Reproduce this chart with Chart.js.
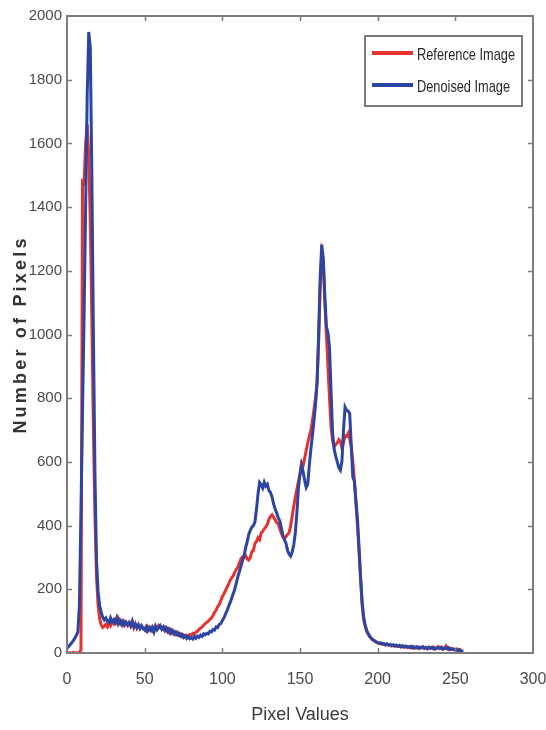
<!DOCTYPE html>
<html><head><meta charset="utf-8">
<script src="https://cdn.jsdelivr.net/npm/chart.js@4.4.1/dist/chart.umd.min.js"></script>
<style>html,body{margin:0;padding:0;background:#fff}canvas{display:block}</style>
</head><body>
<canvas id="c" width="546" height="730"></canvas>
<script>
// ---- data ----
const pixelValues = Array.from({length: 256}, (_, i) => i); // histogram bins 0..255
const referenceCounts = [
  2, 0, 1, 0, 2, 0, 1, 0, 2, 10,
  1480, 1475, 1600, 1660, 1560, 1350, 1050, 700, 430, 240,
  150, 108, 88, 80, 84, 90, 82, 94, 86, 100,
  92, 104, 96, 108, 94, 100, 88, 98, 92, 86,
  96, 88, 98, 80, 92, 78, 86, 80, 84, 76,
  78, 70, 82, 74, 80, 70, 78, 82, 76, 86,
  80, 78, 74, 80, 70, 76, 64, 72, 62, 66,
  58, 64, 56, 60, 52, 56, 50, 55, 54, 58,
  56, 62, 60, 66, 68, 74, 78, 82, 88, 92,
  96, 100, 106, 110, 118, 128, 134, 146, 152, 164,
  177, 186, 196, 206, 216, 228, 236, 242, 254, 262,
  270, 282, 296, 302, 300, 306, 296, 292, 300, 318,
  322, 344, 350, 362, 356, 376, 382, 390, 396, 404,
  420, 428, 434, 426, 418, 410, 406, 390, 376, 364,
  360, 366, 372, 378, 400, 430, 462, 490, 514, 540,
  562, 596, 588, 612, 636, 660, 680, 700, 730, 764,
  800, 850, 980, 1150, 1250, 1220, 1100, 1000, 900, 800,
  710, 665, 648, 655, 660, 670, 664, 642, 660, 682,
  680, 690, 672, 648, 600, 543, 470, 400, 320, 232,
  150, 104, 84, 68, 58, 50, 45, 40, 38, 34,
  32, 29, 30, 27, 29, 25, 28, 24, 26, 22,
  24, 21, 23, 20, 22, 19, 21, 18, 20, 17,
  19, 16, 20, 15, 18, 16, 19, 14, 17, 20,
  14, 17, 13, 19, 16, 14, 18, 12, 16, 20,
  14, 18, 12, 15, 22, 13, 16, 11, 14, 12,
  10, 13, 8, 11, 6, 5
];
const denoisedCounts = [
  15, 20, 26, 32, 38, 46, 55, 66, 150, 450,
  760, 1060, 1400, 1750, 1950, 1900, 1500, 1000, 560, 290,
  195, 150, 128, 112, 104, 110, 100, 96, 110, 97,
  104, 95, 110, 92, 102, 90, 99, 88, 97, 90,
  95, 85, 100, 83, 90, 80, 89, 77, 86, 78,
  72, 82, 70, 79, 71, 80, 66, 84, 73, 80,
  86, 75, 82, 71, 78, 67, 74, 63, 70, 60,
  66, 57, 62, 53, 58, 49, 54, 46, 52, 45,
  48, 44, 52, 46, 53, 49, 56, 52, 60, 57,
  62, 60, 68, 66, 74, 72, 82, 80, 90, 92,
  102, 110, 122, 132, 146, 158, 172, 186, 200, 220,
  240, 256, 272, 290, 305, 330, 350, 372, 385, 395,
  400, 412, 452, 500, 535, 528, 518, 536, 524, 530,
  510, 504, 490, 468, 452, 440, 424, 415, 392, 370,
  356, 344, 322, 310, 304, 318, 340, 378, 440, 518,
  560, 590, 570, 542, 520, 530, 590, 640, 682, 730,
  780, 850, 1000, 1180, 1282, 1240, 1120, 1025, 1005, 960,
  820, 690, 640, 618, 600, 582, 574, 602, 700, 772,
  762, 760, 752, 650, 552, 540, 480, 420, 330, 240,
  160, 112, 86, 70, 60, 52, 46, 42, 38, 35,
  33, 30, 32, 28, 30, 26, 29, 25, 27, 24,
  26, 22, 25, 21, 24, 20, 23, 19, 22, 20,
  18, 21, 17, 20, 16, 19, 15, 18, 16, 19,
  15, 18, 14, 17, 15, 18, 13, 16, 14, 17,
  15, 18, 12, 16, 14, 17, 11, 14, 12, 10,
  12, 8, 10, 6, 7, 4
];
const xTickValues = [0, 50, 100, 150, 200, 250, 300];
const yTickValues = [0, 200, 400, 600, 800, 1000, 1200, 1400, 1600, 1800, 2000];
const seriesLabels = ['Reference Image', 'Denoised Image'];
const xTitle = 'Pixel Values';
const yTitle = 'Number of Pixels';

// ---- styles ----
const FONT = "'Liberation Sans', Arial, sans-serif";
const RED = '#e5322f';
const BLUE = '#2c45a3';
const AXIS = '#7d7d7d';

const toXY = (ys) => ys.map((v, i) => ({x: pixelValues[i], y: v}));

const decorPlugin = {
  id: 'decor',
  afterDatasetsDraw(chart) {
    const {ctx, chartArea: a, scales: {x, y}} = chart;
    ctx.save();
    // inward tick marks (top/bottom/left/right)
    ctx.strokeStyle = AXIS;
    ctx.lineWidth = 1.5;
    const tl = 5;
    ctx.beginPath();
    xTickValues.forEach(v => {
      const px = Math.round(x.getPixelForValue(v)) + 0.5;
      if (px <= a.left + 2 || px >= a.right - 2) return;
      ctx.moveTo(px, a.bottom); ctx.lineTo(px, a.bottom - tl);
      ctx.moveTo(px, a.top); ctx.lineTo(px, a.top + tl);
    });
    yTickValues.forEach(v => {
      const py = Math.round(y.getPixelForValue(v)) + 0.5;
      if (py <= a.top + 2 || py >= a.bottom - 2) return;
      ctx.moveTo(a.left, py); ctx.lineTo(a.left + tl, py);
      ctx.moveTo(a.right, py); ctx.lineTo(a.right - tl, py);
    });
    ctx.stroke();
    // frame
    ctx.lineWidth = 2;
    ctx.strokeRect(a.left, a.top, a.right - a.left, a.bottom - a.top);

    // legend box
    const bw = 157, bh = 70;
    const bx = a.right - 11 - bw, by = a.top + 20;
    ctx.fillStyle = '#ffffff';
    ctx.fillRect(bx, by, bw, bh);
    ctx.strokeStyle = '#6e6e6e';
    ctx.lineWidth = 1.8;
    ctx.strokeRect(bx, by, bw, bh);
    const ds = chart.data.datasets;
    const rows = [by + 17, by + 49];
    ctx.font = '17px ' + FONT;
    const sx = 98 / ctx.measureText(ds[0].label).width;
    ds.forEach((d, i) => {
      const ly = rows[i];
      ctx.strokeStyle = d.borderColor;
      ctx.lineWidth = 4;
      ctx.beginPath();
      ctx.moveTo(bx + 7, ly); ctx.lineTo(bx + 48, ly);
      ctx.stroke();
      ctx.save();
      ctx.translate(bx + 52, ly + 2);
      ctx.scale(sx, 1);
      ctx.fillStyle = '#2a2a2a';
      ctx.textAlign = 'left';
      ctx.textBaseline = 'middle';
      ctx.fillText(d.label, 0, 0);
      ctx.restore();
    });
    ctx.restore();
  },
  afterDraw(chart) {
    const {ctx, chartArea: a} = chart;
    ctx.save();
    ctx.translate(21, (a.top + a.bottom) / 2);
    ctx.rotate(-Math.PI / 2);
    ctx.fillStyle = '#333';
    ctx.font = 'bold 18px ' + FONT;
    try { ctx.letterSpacing = '3.2px'; } catch (e) {}
    ctx.textAlign = 'center';
    ctx.textBaseline = 'middle';
    ctx.fillText(yTitle, 0, 0);
    ctx.restore();
  }
};

new Chart(document.getElementById('c'), {
  type: 'line',
  data: {
    datasets: [
      {label: seriesLabels[0], data: toXY(referenceCounts), borderColor: RED, backgroundColor: RED,
       borderWidth: 3, pointRadius: 0, tension: 0, order: 1},
      {label: seriesLabels[1], data: toXY(denoisedCounts), borderColor: BLUE, backgroundColor: BLUE,
       borderWidth: 3, pointRadius: 0, tension: 0, order: 0}
    ]
  },
  options: {
    responsive: false,
    animation: false,
    devicePixelRatio: 1,
    layout: {padding: {top: 16, right: 13, left: 0, bottom: 0}},
    plugins: {legend: {display: false}, tooltip: {enabled: false}},
    scales: {
      x: {
        type: 'linear', min: 0, max: 300,
        grid: {display: false, drawTicks: false},
        border: {display: false},
        afterBuildTicks: s => { s.ticks = xTickValues.map(v => ({value: v})); },
        afterFit: s => { s.height = 77; s.paddingLeft = 0; s.paddingRight = 0; },
        ticks: {color: '#4a4a4a', font: {family: FONT, size: 16}, padding: 17, maxRotation: 0,
                callback: v => String(v)},
        title: {display: true, text: xTitle, color: '#3a3a3a', font: {family: FONT, size: 18}, padding: {top: 0, bottom: 4}}
      },
      y: {
        type: 'linear', min: 0, max: 2000,
        grid: {display: false, drawTicks: false},
        border: {display: false},
        afterBuildTicks: s => { s.ticks = yTickValues.map(v => ({value: v})); },
        afterFit: s => { s.width = 67; s.paddingTop = 0; s.paddingBottom = 0; },
        ticks: {color: '#4a4a4a', font: {family: FONT, size: 15}, padding: 5,
                callback: v => String(v)},
        title: {display: false}
      }
    }
  },
  plugins: [decorPlugin]
});
</script>
</body></html>
